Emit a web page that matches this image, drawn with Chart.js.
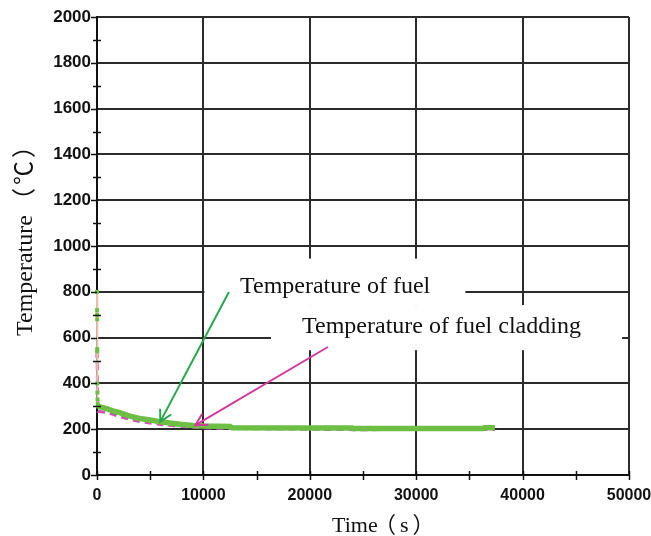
<!DOCTYPE html>
<html><head><meta charset="utf-8">
<script src="https://cdn.jsdelivr.net/npm/chart.js@4/dist/chart.umd.min.js"></script>
<style>html,body{margin:0;padding:0;background:#fff;}#wrap{width:651px;height:536px;}</style>
</head><body><div id="wrap"><canvas id="c" width="651" height="536"></canvas></div>
<script>
// ---- data ----
const fuelTime = [0, 5, 10, 15, 20, 25, 30, 40, 50, 70, 100, 750, 1500, 2200, 3000, 4000, 5000, 6000, 7000, 8000, 9000, 10000, 12500, 12700, 24000, 24100, 36300, 36400, 37400];
const fuelTemp = [800, 720, 700, 680, 550, 540, 400, 360, 330, 310, 300, 292, 280, 271, 258, 247, 240, 232, 226, 221, 216, 214, 212, 206, 205, 203, 203, 206, 206];
const cladTime = [0, 10, 20, 30, 50, 100, 750, 1500, 2200, 3000, 4000, 5000, 6000, 7000, 8000, 9000, 10000, 12500, 24000, 37400];
const cladTemp = [540, 520, 490, 470, 330, 278, 274, 265, 254, 244, 234, 227, 221, 216, 212, 209, 206, 203, 198, 199];
const xTickValues = [0, 10000, 20000, 30000, 40000, 50000];
const yTickValues = [0, 200, 400, 600, 800, 1000, 1200, 1400, 1600, 1800, 2000];
const xTitleMain = 'Time', xTitleUnit = '（s）';
const yTitleMain = 'Temperature', yTitleUnit = '（℃）';
const noteFuel = 'Temperature of fuel';
const noteClad = 'Temperature of fuel cladding';

// annotation placement in data units
const notes = [
  {text: noteFuel, color: '#27a84c', box: [10100, 945, 34620, 742], at: [13440, 795], from: [12400, 799], to: [5950, 233]},
  {text: noteClad, color: '#d2399c', box: [16350, 742, 49350, 545], at: [19270, 620], from: [21700, 559], to: [9250, 218]}
];

const SERIF = '"Liberation Serif", "Noto Sans CJK SC", serif';
const SANS = '"Liberation Sans", Arial, sans-serif';

const decor = {
  id: 'decor',
  beforeDatasetsDraw(chart) {
    const {ctx, scales: {x, y}} = chart;
    ctx.save();
    ctx.fillStyle = '#ffffff';
    for (const n of notes) {
      const x0 = x.getPixelForValue(n.box[0]), y0 = y.getPixelForValue(n.box[1]);
      const x1 = x.getPixelForValue(n.box[2]), y1 = y.getPixelForValue(n.box[3]);
      ctx.fillRect(x0, y0, x1 - x0, y1 - y0);
    }
    ctx.restore();
  },
  afterDraw(chart) {
    const {ctx, chartArea: ca, scales: {x, y}} = chart;
    ctx.save();
    // tick marks
    ctx.strokeStyle = '#111';
    ctx.lineWidth = 1.5;
    const ax = x.getPixelForValue(0), ay = y.getPixelForValue(0);
    for (let v = 0; v <= 2000; v += 100) {
      const py = Math.round(y.getPixelForValue(v)) + 0.5;
      ctx.beginPath();
      if (v % 200 === 0) { ctx.moveTo(ax - 6, py); ctx.lineTo(ax, py); }
      else { ctx.moveTo(ax - 4, py); ctx.lineTo(ax + 4, py); }
      ctx.stroke();
    }
    for (let t = 0; t <= 50000; t += 5000) {
      const px = Math.round(x.getPixelForValue(t)) + 0.5;
      ctx.beginPath();
      ctx.moveTo(px, ay - 4); ctx.lineTo(px, ay + 5);
      ctx.stroke();
    }
    // axis titles
    ctx.fillStyle = '#111';
    ctx.textAlign = 'left';
    ctx.textBaseline = 'alphabetic';
    ctx.font = '22px ' + SERIF;
    const xs = ca.left + 235, xb = ca.bottom + 57;
    ctx.fillText(xTitleMain, xs, xb);
    ctx.letterSpacing = '4px';
    ctx.fillText(xTitleUnit, xs + 42, xb);
    ctx.letterSpacing = '0px';
    ctx.save();
    ctx.translate(ca.left - 65, ca.bottom - 139);
    ctx.rotate(-Math.PI / 2);
    ctx.font = '24px ' + SERIF;
    ctx.fillText(yTitleMain, 0, 0);
    ctx.letterSpacing = '3px';
    ctx.fillText(yTitleUnit, 124, 0);
    ctx.letterSpacing = '0px';
    ctx.restore();
    // annotations
    for (const n of notes) {
      ctx.fillStyle = '#111';
      ctx.font = '24px ' + SERIF;
      ctx.fillText(n.text, x.getPixelForValue(n.at[0]), y.getPixelForValue(n.at[1]));
      const fx = x.getPixelForValue(n.from[0]), fy = y.getPixelForValue(n.from[1]);
      const tx = x.getPixelForValue(n.to[0]), ty = y.getPixelForValue(n.to[1]);
      ctx.strokeStyle = n.color;
      ctx.lineWidth = 2;
      ctx.beginPath(); ctx.moveTo(fx, fy); ctx.lineTo(tx, ty); ctx.stroke();
      const ang = Math.atan2(ty - fy, tx - fx);
      const L = 13, spread = 0.5;
      ctx.beginPath();
      ctx.moveTo(tx - L * Math.cos(ang - spread), ty - L * Math.sin(ang - spread));
      ctx.lineTo(tx, ty);
      ctx.lineTo(tx - L * Math.cos(ang + spread), ty - L * Math.sin(ang + spread));
      ctx.stroke();
    }
    ctx.restore();
  }
};

const spike = 100;
new Chart(document.getElementById('c'), {
  type: 'scatter',
  data: {
    datasets: [
      {
        label: noteFuel,
        data: fuelTime.map((t, i) => ({x: t, y: fuelTemp[i]})),
        showLine: true,
        borderColor: '#6dbf43',
        backgroundColor: '#6dbf43',
        borderWidth: 5.5,
        pointStyle: 'rect',
        pointRadius: c => (c.raw && c.raw.x <= spike ? 2.8 : 0),
        pointBorderWidth: 0,
        clip: 12,
        segment: {
          borderColor: c => (c.p1.parsed.x <= spike ? '#ebc4a8' : undefined),
          borderWidth: c => (c.p1.parsed.x <= spike ? 2 : undefined)
        }
      },
      {
        label: noteClad,
        data: cladTime.map((t, i) => ({x: t, y: cladTemp[i]})),
        showLine: true,
        borderColor: '#cc52b4',
        backgroundColor: '#cc52b4',
        borderWidth: 3,
        borderDash: [7, 5],
        pointStyle: 'rect',
        pointRadius: c => (c.raw && c.raw.x <= 30 ? 2 : 0),
        pointBorderWidth: 0,
        clip: 12
      }
    ]
  },
  options: {
    responsive: false,
    animation: false,
    devicePixelRatio: 1,
    layout: {padding: {top: 17, right: 22, left: 0, bottom: 0}},
    plugins: {legend: {display: false}, tooltip: {enabled: false}},
    scales: {
      x: {
        type: 'linear', min: 0, max: 50000,
        afterBuildTicks: s => { s.ticks = xTickValues.map(v => ({value: v})); },
        afterFit: s => { s.height = 61; s.paddingLeft = 0; s.paddingRight = 0; },
        grid: {color: '#2b2b2b', lineWidth: 2, drawTicks: false},
        border: {display: true, color: '#111', width: 2},
        ticks: {color: '#111', padding: 11, maxRotation: 0, autoSkip: false, callback: v => String(v), font: {family: SANS, size: 16, weight: 'bold'}},
        title: {display: false}
      },
      y: {
        type: 'linear', min: 0, max: 2000,
        afterBuildTicks: s => { s.ticks = yTickValues.map(v => ({value: v})); },
        afterFit: s => { s.width = 97; s.paddingTop = 0; s.paddingBottom = 0; },
        grid: {color: '#2b2b2b', lineWidth: 2, drawTicks: false},
        border: {display: true, color: '#111', width: 2},
        ticks: {color: '#111', padding: 6, autoSkip: false, callback: v => String(v), font: {family: SANS, size: 17, weight: 'bold'}},
        title: {display: false}
      }
    }
  },
  plugins: [decor]
});
</script></body></html>
